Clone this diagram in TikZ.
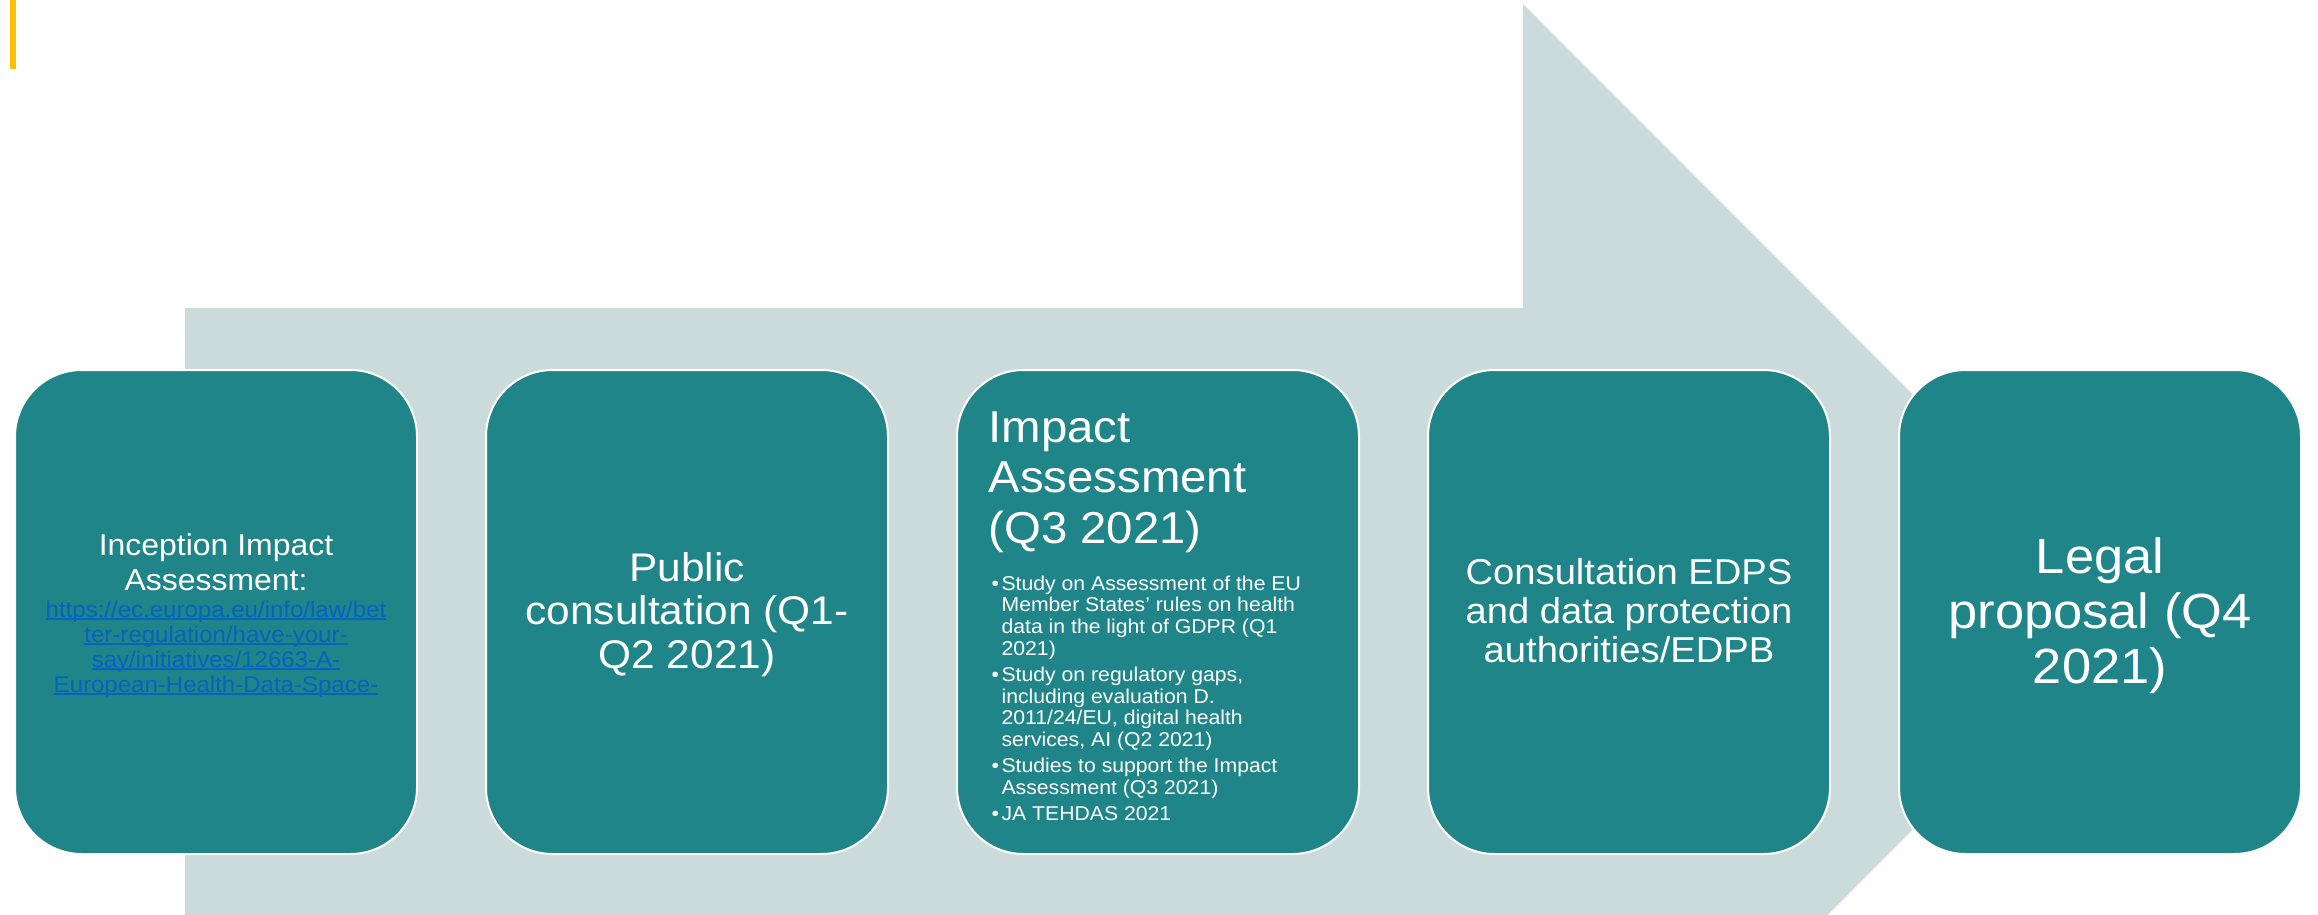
\documentclass[tikz,border=0pt]{standalone}
\usepackage{fontspec}
\setmainfont{Liberation Sans}[FakeStretch=1.06]
\usetikzlibrary{positioning}

\definecolor{stageteal}{RGB}{31,133,137}
\definecolor{arrowgrey}{RGB}{203,218,219}
\definecolor{baryellow}{RGB}{255,192,0}
\definecolor{linkblue}{RGB}{5,99,193}

% underlined hyperlink text
\newcommand{\lnk}[1]{\textcolor{linkblue}{\setbox0\hbox{#1}\rlap{\rule[-2pt]{\wd0}{1.1pt}}\box0}}

\tikzset{every picture/.style={line width=0.75pt}}
\tikzset{
  stage/.style={draw=white, line width=1.5pt, fill=stageteal, rounded corners=50pt,
    minimum width=301.5pt, minimum height=363pt, inner sep=0pt},
  stagetext/.style={text=white, align=center, anchor=base, inner sep=0pt},
}

\begin{document}
\begin{tikzpicture}[x=0.75pt,y=0.75pt,yscale=-1,xscale=1]
	\clip (0,0) rectangle (2318,914);
	
	%Shape: Bar
	\fill[baryellow] (10,0) rectangle (16,69);
	%Shape: Right Arrow
	\fill[arrowgrey] (185,308) -- (1523,308) -- (1523,4) -- (2130,612) -- (1523,1220) -- (1523,916) -- (185,916) -- cycle;
	
	%Shape: Rounded Rectangles
	\node[stage] (inception) at (216,612) {};
	\node[stage, right=50.25pt of inception] (pubcons) {};
	\node[stage, right=50.25pt of pubcons] (impact) {};
	\node[stage, right=50.25pt of impact] (edps) {};
	\node[stage, right=50.25pt of edps] (legal) {};
	
	% Text Node (base = last line)
	\node[stagetext, font=\fontsize{22.6pt}{26.25pt}\selectfont] (inceptiontxt) at (216,590) {Inception Impact\\Assessment:};
	% Text Node
	\node[stagetext, font=\fontsize{17pt}{18.75pt}\selectfont] (inceptionlink) at (216,692)
	  {\lnk{https://ec.europa.eu/info/law/bet}\\\lnk{ter-regulation/have-your-}\\\lnk{say/initiatives/12663-A-}\\\lnk{European-Health-Data-Space-}};
	% Text Node
	\node[stagetext, font=\fontsize{30pt}{32.5pt}\selectfont] (pubconstxt) at (687,668) {Public\\consultation (Q1-\\Q2 2021)};
	% Text Node
	\node[stagetext, align=left, anchor=base west, font=\fontsize{33.5pt}{37.75pt}\selectfont] (impacttitle) at (988,543) {Impact\\Assessment\\(Q3 2021)};
	% Text Node
	\node[text=white, anchor=base west, inner sep=0pt, font=\fontsize{15pt}{16.35pt}\selectfont] (impactstudies) at (991,590)
	  {\begin{tabular}[t]{@{}l@{\hspace{2pt}}l@{}}
	  \textbullet & Study on Assessment of the EU\\
	              & Member States’ rules on health\\
	              & data in the light of GDPR (Q1\\
	              & 2021)\\[3pt]
	  \textbullet & Study on regulatory gaps,\\
	              & including evaluation D.\\
	              & 2011/24/EU, digital health\\
	              & services, AI (Q2 2021)\\[3pt]
	  \textbullet & Studies to support the Impact\\
	              & Assessment (Q3 2021)\\[3pt]
	  \textbullet & JA TEHDAS 2021
	  \end{tabular}};
	% Text Node
	\node[stagetext, font=\fontsize{27pt}{29pt}\selectfont] (edpstxt) at (1629,662) {Consultation EDPS\\and data protection\\authorities/EDPB};
	% Text Node
	\node[stagetext, font=\fontsize{37.1pt}{41.25pt}\selectfont] (legaltxt) at (2100,683) {Legal\\proposal (Q4\\2021)};
	
\end{tikzpicture}
\end{document}
